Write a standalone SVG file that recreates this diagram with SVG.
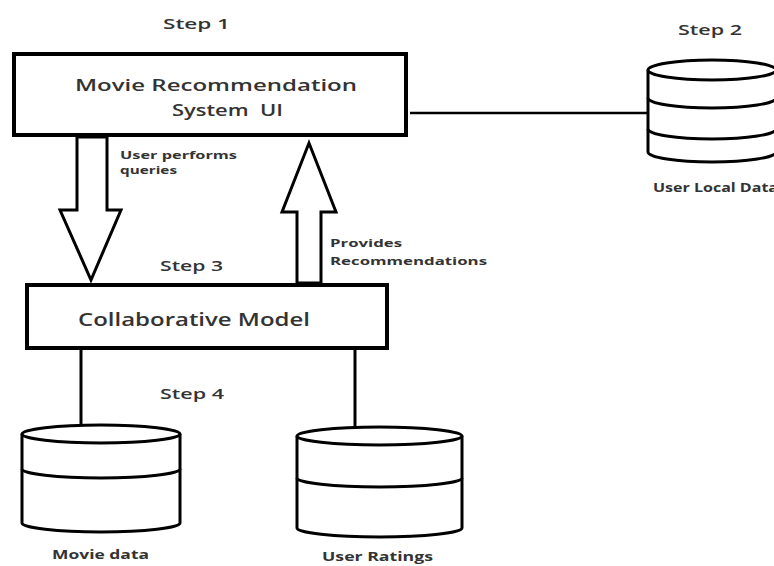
<svg xmlns="http://www.w3.org/2000/svg" width="774" height="566" viewBox="0 0 774 566">
<style>
.box{fill:#fff;stroke:#000;stroke-width:4}
.cyl{fill:#fff;stroke:#000;stroke-width:3}
.ln{fill:none;stroke:#000;stroke-width:3}
.arr{fill:#fff;stroke:#000;stroke-width:3;stroke-linejoin:miter}
.main{font-family:"Open Sans","Liberation Sans",sans-serif;font-size:17px;font-weight:600;fill:#333;white-space:pre}
.step{font-family:"Open Sans","Liberation Sans",sans-serif;font-size:14px;font-weight:600;fill:#333}
.lbl{font-family:"Open Sans","Liberation Sans",sans-serif;font-size:11px;font-weight:bold;fill:#333}
.db{font-family:"Open Sans","Liberation Sans",sans-serif;font-size:12px;font-weight:bold;fill:#333}
</style>
<rect width="774" height="566" fill="#fff"/>
<g id="connectors">
<line class="ln" x1="410" y1="113" x2="648" y2="113" style="stroke-width:2.5"/>
<line class="ln" x1="81" y1="350" x2="81" y2="426"/>
<line class="ln" x1="355" y1="350" x2="355" y2="428"/>
<polygon id="arrow-down" class="arr" points="77,137 77,210 60,210 91,280 121,210 107,210 107,137"/>
<polygon id="arrow-up" class="arr" points="297,283 297,212 282,212 309,143 336,212 321,212 321,283"/>
<text class="lbl" x="120" y="159" textLength="117" lengthAdjust="spacingAndGlyphs">User performs</text>
<text class="lbl" x="120" y="174" textLength="57" lengthAdjust="spacingAndGlyphs">queries</text>
<text class="lbl" x="330" y="247" textLength="72" lengthAdjust="spacingAndGlyphs">Provides</text>
<text class="lbl" x="330" y="265" textLength="157" lengthAdjust="spacingAndGlyphs">Recommendations</text>
</g>
<g id="step-labels">
<text class="step" x="163" y="29" textLength="67" lengthAdjust="spacingAndGlyphs">Step 1</text>
<text class="step" x="678" y="35" textLength="64" lengthAdjust="spacingAndGlyphs">Step 2</text>
<text class="step" x="160" y="271" textLength="63" lengthAdjust="spacingAndGlyphs">Step 3</text>
<text class="step" x="160" y="399" textLength="64" lengthAdjust="spacingAndGlyphs">Step 4</text>
</g>
<g id="ui">
<rect class="box" x="14" y="54" width="392" height="81"/>
<text class="main" x="75" y="91" textLength="282" lengthAdjust="spacingAndGlyphs">Movie Recommendation</text>
<text class="main" x="172" y="116" textLength="111" lengthAdjust="spacingAndGlyphs">System  UI</text>
</g>
<g id="model">
<rect class="box" x="27" y="285" width="360" height="63"/>
<text class="main" x="78" y="326" style="font-size:18px" textLength="232" lengthAdjust="spacingAndGlyphs">Collaborative Model</text>
</g>
<g id="user-local-data">
<path class="cyl" d="M648,70 L648,152 A64,10 0 0 0 776,152 L776,70"/>
<ellipse class="cyl" cx="712" cy="70" rx="64" ry="10"/>
<path class="ln" d="M648,98 A64,10 0 0 0 776,98"/>
<path class="ln" d="M648,129 A64,10 0 0 0 776,129"/>
<text class="db" x="653" y="192" textLength="125" lengthAdjust="spacingAndGlyphs">User Local Data</text>
</g>
<g id="movie-data">
<path class="cyl" d="M22,434 L22,523 A79,9 0 0 0 180,523 L180,434"/>
<ellipse class="cyl" cx="101" cy="434" rx="79" ry="9"/>
<path class="ln" d="M22,469 A79,9 0 0 0 180,469"/>
<text class="db" x="52" y="559" textLength="97" lengthAdjust="spacingAndGlyphs">Movie data</text>
</g>
<g id="user-ratings">
<path class="cyl" d="M297,436 L297,528 A82.5,9 0 0 0 462,528 L462,436"/>
<ellipse class="cyl" cx="379.5" cy="436" rx="82.5" ry="9"/>
<path class="ln" d="M297,478 A82.5,9 0 0 0 462,478"/>
<text class="db" x="322" y="561" textLength="111" lengthAdjust="spacingAndGlyphs">User Ratings</text>
</g>
</svg>
